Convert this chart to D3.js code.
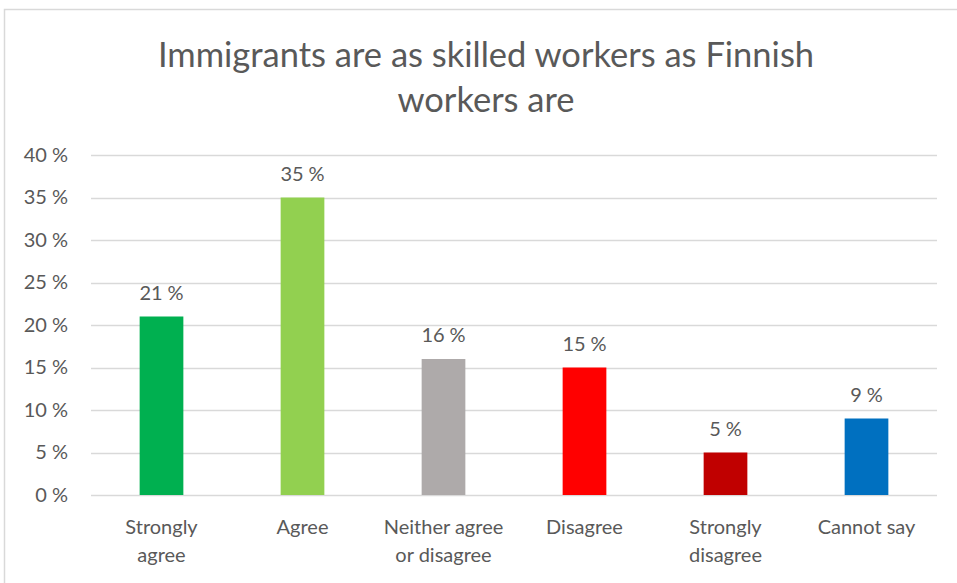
<!DOCTYPE html>
<html>
<head>
<meta charset="utf-8">
<script src="https://cdn.jsdelivr.net/npm/d3@7"></script>
<style>
  html, body { margin: 0; padding: 0; background: #fff; }
  svg { display: block; }
  text { font-family: Lato, "Open Sans", sans-serif; fill: #595959; }
</style>
</head>
<body>
<svg id="chart" width="957" height="583"></svg>
<script>
// Survey responses: "Immigrants are as skilled workers as Finnish workers are"
const categories = [
  ["Strongly", "agree"],
  ["Agree"],
  ["Neither agree", "or disagree"],
  ["Disagree"],
  ["Strongly", "disagree"],
  ["Cannot say"]
];
const values = [21, 35, 16, 15, 5, 9];
const colors = ["#00b050", "#92d050", "#aeaaaa", "#ff0000", "#c00000", "#0070c0"];
const yTicks = [0, 5, 10, 15, 20, 25, 30, 35, 40];
const titleLines = ["Immigrants are as skilled workers as Finnish", "workers are"];

const svg = d3.select("#chart");
const W = 957, H = 583;

// chart frame
svg.append("rect")
  .attr("x", 4.5).attr("y", 9.5)
  .attr("width", W + 10).attr("height", H + 10)
  .attr("fill", "#fff").attr("stroke", "#d9d9d9").attr("stroke-width", 1.5);

const plot = { left: 91, right: 937, top: 155, bottom: 495 };

const x = d3.scaleBand()
  .domain(d3.range(categories.length))
  .range([plot.left, plot.right])
  .paddingInner(0.69).paddingOuter(0.345);

const y = d3.scaleLinear().domain([0, 40]).range([plot.bottom, plot.top]);

// title
svg.append("g").selectAll("text")
  .data(titleLines).join("text")
  .attr("x", 486).attr("y", (d, i) => 67 + i * 45)
  .attr("text-anchor", "middle")
  .style("font-size", "34.5px")
  .text(d => d);

// gridlines
svg.append("g").selectAll("line")
  .data(yTicks).join("line")
  .attr("x1", plot.left).attr("x2", plot.right)
  .attr("y1", d => Math.round(y(d)) + 0.5).attr("y2", d => Math.round(y(d)) + 0.5)
  .attr("stroke", "#d9d9d9").attr("stroke-width", 1.5);

// y axis labels
const yAxis = d3.axisLeft(y).tickValues(yTicks).tickSize(0).tickPadding(0)
  .tickFormat(d => d + "\u202f%");
const ya = svg.append("g").attr("transform", `translate(68,0)`).call(yAxis);
ya.select(".domain").remove();
ya.selectAll("text").style("font-size", "20px").attr("fill", "#595959")
  .style("font-family", "Lato, sans-serif");

// bars
svg.append("g").selectAll("rect")
  .data(values).join("rect")
  .attr("x", (d, i) => x(i))
  .attr("width", x.bandwidth())
  .attr("y", d => y(d))
  .attr("height", d => y(0) - y(d))
  .attr("fill", (d, i) => colors[i]);

// value labels
svg.append("g").selectAll("text")
  .data(values).join("text")
  .attr("x", (d, i) => x(i) + x.bandwidth() / 2)
  .attr("y", d => y(d) - 17)
  .attr("text-anchor", "middle")
  .style("font-size", "20px")
  .text(d => d + "\u202f%");

// category labels
const catG = svg.append("g").selectAll("text")
  .data(categories).join("text")
  .attr("x", (d, i) => x(i) + x.bandwidth() / 2)
  .attr("y", 534)
  .attr("text-anchor", "middle")
  .style("font-size", "20px");
catG.selectAll("tspan")
  .data((d, i) => d.map(t => ({ t, i })))
  .join("tspan")
  .attr("x", d => x(d.i) + x.bandwidth() / 2)
  .attr("dy", (d, j) => j === 0 ? 0 : 28)
  .text(d => d.t);
</script>
</body>
</html>
